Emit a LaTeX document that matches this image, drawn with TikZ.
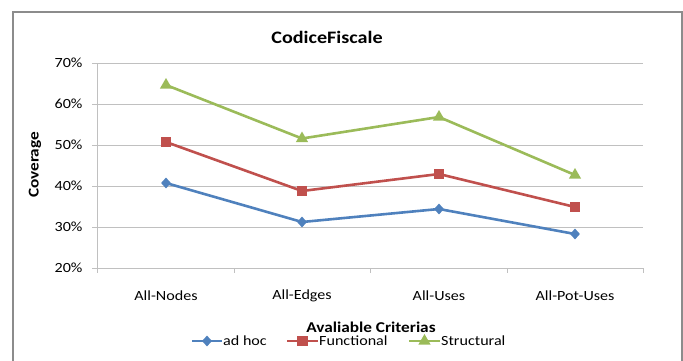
\documentclass[tikz,border=0pt]{standalone}
\usepackage{fontspec}
\setmainfont{Carlito}[FakeStretch=1.15]
\usetikzlibrary{shapes.geometric}
\definecolor{adhocblue}{HTML}{4F81BD}
\definecolor{funcred}{HTML}{C0504D}
\definecolor{structgreen}{HTML}{9BBB59}
\definecolor{gridgray}{HTML}{C0C0C0}
\definecolor{framegray}{HTML}{8C8C8C}
\tikzset{
    chartbox/.style = {draw=framegray, line width=1.4pt},
    gridln/.style = {draw=gridgray, line width=0.9pt},
    ticklab/.style = {font=\fontsize{14}{14}\selectfont, text=black},
    axtitle/.style = {font=\fontsize{15}{15}\selectfont\bfseries, text=black},
    charttitle/.style = {font=\fontsize{17.5}{17.5}\selectfont\bfseries, text=black},
    legtext/.style = {font=\fontsize{14}{14}\selectfont, text=black, anchor=west, inner sep=1pt},
    linea/.style = {line width=2.6pt, adhocblue, line join=round},
    lineb/.style = {line width=2.6pt, funcred, line join=round},
    linec/.style = {line width=2.6pt, structgreen, line join=round},
    mkdiamond/.style = {diamond, fill=adhocblue, inner sep=0pt, minimum width=10pt, minimum height=11pt},
    mksquare/.style = {rectangle, fill=funcred, inner sep=0pt, minimum size=10.5pt},
    mktri/.style = {regular polygon, regular polygon sides=3, fill=structgreen, inner sep=0pt, minimum size=14pt}
}

\begin{document}
\begin{tikzpicture}[x=1pt,y=-1pt]
\useasboundingbox (0,0) rectangle (683,360);
\clip (0,0) rectangle (683,360);
\draw[chartbox] (13,12) rectangle (682,372);
% grid and axes
\foreach \v/\y in {70/63,60/104,50/145,40/186,30/227}{
  \draw[gridln] (92,\y) -- (643,\y);
  \node[ticklab, anchor=east] at (86,\y) (ylab\v) {\v\%};
}
\node[ticklab, anchor=east] at (86,268) (ylab20) {20\%};
\draw[gridln] (92,268) -- (643,268);
\draw[gridln] (97,63) -- (97,268);
\foreach \x in {97,234,370,507,643}{
  \draw[gridln] (\x,268) -- (\x,273);
}
\node[ticklab] at (166,296) (cat1) {All-Nodes};
\node[ticklab] at (302,296) (cat2) {All-Edges};
\node[ticklab] at (439,296) (cat3) {All-Uses};
\node[ticklab] at (575,296) (cat4) {All-Pot-Uses};
\node[charttitle] at (327,37) (title) {CodiceFiscale};
\node[axtitle, rotate=90] at (35,165) (ytitle) {Coverage};
\node[axtitle] at (371,327) (xtitle) {Avaliable Criterias};
% data points
\coordinate (a1) at (166,183);
\coordinate (a2) at (302,222);
\coordinate (a3) at (439,209);
\coordinate (a4) at (575,234);
\coordinate (b1) at (166,142);
\coordinate (b2) at (302,191);
\coordinate (b3) at (439,174);
\coordinate (b4) at (575,207);
\coordinate (c1) at (166,85);
\coordinate (c2) at (302,138.5);
\coordinate (c3) at (439,117);
\coordinate (c4) at (575,175);
\draw[linea] (a1) -- (a2) -- (a3) -- (a4);
\draw[lineb] (b1) -- (b2) -- (b3) -- (b4);
\draw[linec] (c1) -- (c2) -- (c3) -- (c4);
\foreach \i in {1,...,4}{
  \node[mkdiamond] at (a\i) {};
  \node[mksquare] at (b\i) {};
  \node[mktri] at (c\i) {};
}
% legend
\coordinate (la0) at (192,341);
\coordinate (la1) at (222,341);
\coordinate (lb0) at (287,341);
\coordinate (lb1) at (318,341);
\coordinate (lc0) at (409,341);
\coordinate (lc1) at (440,341);
\draw[linea] (la0) -- (la1);
\draw[lineb] (lb0) -- (lb1);
\draw[linec] (lc0) -- (lc1);
\node[mkdiamond] at (207,341) (legmka) {};
\node[mksquare] at (302.5,341) (legmkb) {};
\node[mktri] at (424.5,341) (legmkc) {};
\node[legtext] at (la1) (lega) {ad hoc};
\node[legtext] at (lb1) (legb) {Functional};
\node[legtext] at (lc1) (legc) {Structural};
\end{tikzpicture}
\end{document}
